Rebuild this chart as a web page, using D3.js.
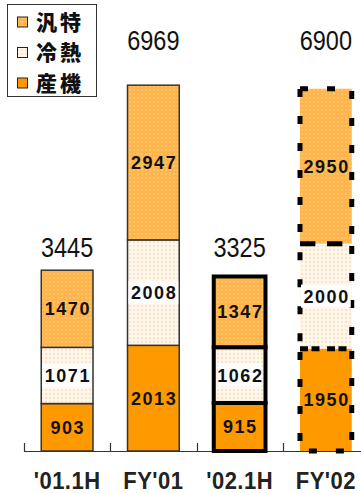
<!DOCTYPE html>
<html>
<head>
<meta charset="utf-8">
<script src="https://cdn.jsdelivr.net/npm/d3@7"></script>
<style>
  html, body { margin: 0; padding: 0; background: #fff; }
  svg { display: block; }
</style>
</head>
<body>
<svg id="chart" width="361" height="493"></svg>
<script>
// Periods on the x axis
const categories = ["'01.1H", "FY'01", "'02.1H", "FY'02"];
// Segment values, stacked bottom to top
const sankiValues = [903, 2013, 915, 1950];     // 産機
const reinetsuValues = [1071, 2008, 1062, 2000]; // 冷熱
const hantokuValues = [1470, 2947, 1347, 2950];  // 汎特
const totals = [3445, 6969, 3325, 6900];
// Series names (legend order, top to bottom)
const seriesNames = ["汎特", "冷熱", "産機"];
// Bar outline style per period: normal, normal, bold (actual half), dashed (plan)
const barStyles = ["thin", "thin", "bold", "dashed"];

const svg = d3.select("#chart");
const W = 361, H = 493;
const baseY = 451;

const x = d3.scaleBand()
  .domain(categories)
  .range([24, 369])
  .paddingInner(0.4)
  .paddingOuter(0.2);

const y = d3.scaleLinear()
  .domain([0, 8000])
  .range([baseY, 31]);

// Dotted textures for the two lighter series
const defs = svg.append("defs");
function dotPattern(id, base, dot) {
  const p = defs.append("pattern")
    .attr("id", id)
    .attr("patternUnits", "userSpaceOnUse")
    .attr("width", 4).attr("height", 4);
  p.append("rect").attr("width", 4).attr("height", 4).attr("fill", base);
  p.append("rect").attr("x", 1).attr("y", 1).attr("width", 2).attr("height", 2).attr("fill", dot);
}
dotPattern("texHantoku", "#FFB44C", "#FFC468");
dotPattern("texReinetsu", "#FFF6EC", "#FDE3C7");

const fills = {
  "汎特": "url(#texHantoku)",
  "冷熱": "url(#texReinetsu)",
  "産機": "#FF9900"
};

// Build stacked rows
const rows = categories.map((c, i) => ({
  cat: c,
  "産機": sankiValues[i],
  "冷熱": reinetsuValues[i],
  "汎特": hantokuValues[i],
  total: totals[i],
  style: barStyles[i]
}));
const stack = d3.stack().keys(["産機", "冷熱", "汎特"]);
const layers = stack(rows);

// Axis line and inward ticks at band boundaries
const step = x.step();
const axisG = svg.append("g");
axisG.append("line")
  .attr("x1", x.range()[0]).attr("x2", W)
  .attr("y1", baseY + 0.5).attr("y2", baseY + 0.5)
  .attr("stroke", "#333").attr("stroke-width", 1.2);
const tickXs = categories.map(c => x(c) - step * x.paddingOuter()).concat([x.range()[1]]);
axisG.selectAll("line.tick")
  .data(tickXs)
  .join("line")
  .attr("class", "tick")
  .attr("x1", d => Math.round(d) + 0.5).attr("x2", d => Math.round(d) + 0.5)
  .attr("y1", baseY - 8).attr("y2", baseY + 1)
  .attr("stroke", "#333").attr("stroke-width", 1.2);

// Bars
const barG = svg.append("g");
layers.forEach(layer => {
  const key = layer.key;
  layer.forEach((seg, i) => {
    const r = rows[i];
    const x0 = x(r.cat), bw = x.bandwidth();
    const y0 = y(seg[1]), y1 = y(seg[0]);
    const rect = barG.append("rect")
      .attr("x", x0).attr("y", y0)
      .attr("width", bw).attr("height", y1 - y0)
      .attr("fill", fills[key]);
    if (r.style === "thin") {
      rect.attr("stroke", "#333").attr("stroke-width", 1.5);
    } else if (r.style === "bold") {
      rect.attr("stroke", "#000").attr("stroke-width", 4);
    }
  });
});

// Dashed outlines for the plan bar, drawn per segment
layers.forEach(layer => {
  layer.forEach((seg, i) => {
    const r = rows[i];
    if (r.style !== "dashed") return;
    const x0 = x(r.cat), bw = x.bandwidth();
    const y0 = y(seg[1]), y1 = y(seg[0]);
    barG.append("rect")
      .attr("x", x0).attr("y", y0)
      .attr("width", bw).attr("height", y1 - y0)
      .attr("fill", "none")
      .attr("stroke", "#000")
      .attr("stroke-width", 5)
      .attr("stroke-dasharray", "8,19");
  });
});

// Segment value labels (white plate behind the 冷熱 values)
const labG = svg.append("g");
layers.forEach(layer => {
  const key = layer.key;
  layer.forEach((seg, i) => {
    const r = rows[i];
    const cx = x(r.cat) + x.bandwidth() / 2;
    const cy = (y(seg[0]) + y(seg[1])) / 2;
    const inset = r.style === "bold" ? 4 : 1;
    if (key === "冷熱") {
      labG.append("rect")
        .attr("x", x(r.cat) + inset)
        .attr("y", cy - 11.5)
        .attr("width", x.bandwidth() - inset * 2)
        .attr("height", 23)
        .attr("fill", "#fff");
    }
    labG.append("text")
      .attr("x", cx + 0.75).attr("y", cy)
      .attr("dy", "0.36em")
      .attr("text-anchor", "middle")
      .attr("font-family", "Arial, 'Liberation Sans', sans-serif")
      .attr("font-weight", "bold")
      .attr("font-size", 18)
      .attr("letter-spacing", 1.5)
      .attr("fill", "#111")
      .text(seg.data[key]);
  });
});

// Totals above each bar; each pair of periods shares one label row
const pairs = [[0, 2], [1, 3]];
const totalGap = [13, 35];
pairs.forEach((pair, p) => {
  const top = d3.min(pair, i => y(totals[i]));
  const ly = top - totalGap[p];
  pair.forEach(i => {
    const cx = x(categories[i]) + x.bandwidth() / 2;
    svg.append("text")
      .attr("transform", `translate(${cx},${ly}) scale(1,1.17)`)
      .attr("text-anchor", "middle")
      .attr("font-family", "Arial, 'Liberation Sans', sans-serif")
      .attr("font-size", 23.5)
      .attr("fill", "#111")
      .text(totals[i]);
  });
});

// Category labels under the axis
categories.forEach(c => {
  const cx = x(c) + x.bandwidth() / 2;
  svg.append("text")
    .attr("transform", `translate(${cx},488.5) scale(1,1.12)`)
    .attr("text-anchor", "middle")
    .attr("font-family", "Arial, 'Liberation Sans', sans-serif")
    .attr("font-weight", "bold")
    .attr("font-size", 22)
    .attr("letter-spacing", 0.5)
    .attr("fill", "#222")
    .text(c);
});

// Legend
const leg = svg.append("g");
leg.append("rect")
  .attr("x", 7.5).attr("y", 4.5)
  .attr("width", 89).attr("height", 92)
  .attr("fill", "#fff")
  .attr("stroke", "#333").attr("stroke-width", 1);
seriesNames.forEach((name, i) => {
  const cy = 22 + i * 30.5;
  leg.append("rect")
    .attr("x", 17.5).attr("y", cy - 5)
    .attr("width", 10).attr("height", 10)
    .attr("fill", fills[name])
    .attr("stroke", "#222").attr("stroke-width", 1);
  leg.append("text")
    .attr("x", 36).attr("y", cy)
    .attr("dy", "0.36em")
    .attr("font-family", "'Noto Sans CJK JP', sans-serif")
    .attr("font-weight", 900)
    .attr("font-size", 21)
    .attr("letter-spacing", 3)
    .attr("fill", "#111")
    .text(name);
});
</script>
</body>
</html>
